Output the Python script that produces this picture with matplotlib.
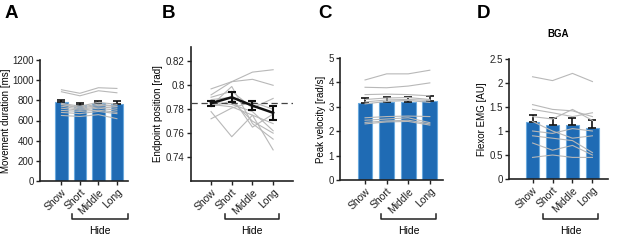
import matplotlib
matplotlib.use("Agg")
import matplotlib.pyplot as plt
import matplotlib.transforms as mtransforms
import numpy as np

plt.rcParams['font.family'] = ['Liberation Sans', 'DejaVu Sans']

categories = ["Show", "Short", "Middle", "Long"]

# Panel A: movement duration [ms]
dur_mean = [780, 752, 770, 765]
dur_err = [28, 25, 28, 28]
dur_subj = [
    [905, 870, 925, 918],
    [885, 845, 895, 875],
    [770, 742, 780, 760],
    [760, 722, 750, 740],
    [742, 712, 735, 722],
    [722, 702, 722, 702],
    [700, 690, 702, 682],
    [680, 668, 690, 668],
    [650, 640, 658, 618],
    [758, 732, 762, 742],
]

# Panel B: endpoint position [rad]
pos_mean = [0.785, 0.790, 0.783, 0.777]
pos_err = [0.002, 0.004, 0.004, 0.006]
pos_ref = 0.785
pos_subj = [
    [0.797, 0.803, 0.811, 0.813],
    [0.792, 0.803, 0.805, 0.800],
    [0.790, 0.795, 0.781, 0.789],
    [0.788, 0.790, 0.765, 0.776],
    [0.786, 0.784, 0.778, 0.762],
    [0.784, 0.782, 0.775, 0.746],
    [0.782, 0.787, 0.770, 0.760],
    [0.778, 0.757, 0.775, 0.768],
    [0.772, 0.781, 0.786, 0.780],
    [0.783, 0.799, 0.768, 0.755],
]

# Panel C: peak velocity [rad/s]
vel_mean = [3.15, 3.20, 3.18, 3.22]
vel_err = [0.20, 0.20, 0.21, 0.21]
vel_subj = [
    [4.10, 4.35, 4.35, 4.50],
    [3.80, 3.78, 3.85, 3.98],
    [3.50, 3.52, 3.50, 3.45],
    [3.30, 3.36, 3.38, 3.30],
    [3.20, 3.28, 3.30, 3.26],
    [3.12, 3.22, 3.26, 3.18],
    [2.55, 2.60, 2.62, 2.60],
    [2.45, 2.50, 2.55, 2.35],
    [2.36, 2.42, 2.45, 2.30],
    [2.30, 2.38, 2.40, 2.25],
]

# Panel D: flexor EMG [AU]
emg_mean = [1.19, 1.13, 1.12, 1.07]
emg_err = [0.15, 0.15, 0.16, 0.15]
emg_subj = [
    [2.13, 2.05, 2.20, 2.03],
    [1.55, 1.45, 1.42, 1.30],
    [1.45, 1.38, 1.30, 1.38],
    [1.30, 1.25, 1.45, 1.22],
    [1.20, 1.00, 0.85, 0.90],
    [1.00, 0.95, 1.05, 1.00],
    [0.90, 0.85, 0.80, 0.55],
    [0.75, 0.60, 0.70, 0.50],
    [0.45, 0.50, 0.45, 0.45],
]

W, H = 617, 241
fig = plt.figure(figsize=(W / 100, H / 100), dpi=100)

def px_axes(l, r, t, b):
    return fig.add_axes([l / W, 1 - b / H, (r - l) / W, (b - t) / H])

BAR = "#1f6bb4"
EDGE = "#6aa9dd"
GREY = "#b8b8b8"
TICK_FS = 7
LAB_FS = 7.5
YLAB_FS = 7

x = np.arange(len(categories))

def style(ax):
    for s in ["top", "right"]:
        ax.spines[s].set_visible(False)
    for s in ["left", "bottom"]:
        ax.spines[s].set_linewidth(1.2)
        ax.spines[s].set_color("#222222")
    ax.tick_params(direction="out", length=3, width=1, labelsize=TICK_FS, pad=1.5, colors="#222222")
    ax.set_xticks(x)
    ax.set_xticklabels(categories, rotation=45, ha="right", rotation_mode="anchor", fontsize=LAB_FS)

def hide_bracket(ax, x0, x1):
    tr = mtransforms.blended_transform_factory(ax.transData, fig.transFigure)
    yb = 1 - 219 / H
    yt = 1 - 214 / H
    ax.plot([x0, x0, x1, x1], [yt, yb, yb, yt], color="#222222", lw=1.1,
            transform=tr, clip_on=False)
    ax.text((x0 + x1) / 2, 1 - 231 / H, "Hide", transform=tr, ha="center",
            va="center", fontsize=LAB_FS)

def bar_panel(ax, mean, err, subj):
    ax.bar(x, mean, width=0.68, color=BAR, edgecolor=EDGE, linewidth=0.8, zorder=2)
    ax.errorbar(x, mean, yerr=[np.zeros(len(err)), err], fmt="none", ecolor="#111111",
                elinewidth=1.2, capsize=3, capthick=1.2, zorder=3)
    for s in subj:
        ax.plot(x, s, color=GREY, lw=0.8, zorder=4)

# A
axA = px_axes(40, 128, 60, 181)
bar_panel(axA, dur_mean, dur_err, dur_subj)
axA.set_ylim(0, 1200)
axA.set_yticks(np.arange(0, 1201, 200))
axA.set_xlim(-1.16, 3.6)
axA.set_ylabel("Movement duration [ms]", fontsize=YLAB_FS, labelpad=1)
style(axA)
hide_bracket(axA, 0.57, 3.6)

# B
axB = px_axes(191, 293, 47, 181)
for s in pos_subj:
    axB.plot(x, s, color=GREY, lw=0.8, zorder=2)
axB.axhline(pos_ref, color="#444444", lw=0.9, ls=(0, (5, 3)), zorder=3)
axB.errorbar(x, pos_mean, yerr=pos_err, color="#111111", lw=1.8, elinewidth=1.5,
             capsize=3, capthick=1.5, zorder=4)
axB.set_ylim(0.72, 0.832)
axB.set_yticks([0.74, 0.76, 0.78, 0.80, 0.82])
axB.set_yticklabels(["0.74", "0.76", "0.78", "0.8", "0.82"])
axB.set_xlim(-0.97, 3.96)
axB.set_ylabel("Endpoint position [rad]", fontsize=YLAB_FS, labelpad=2)
style(axB)
hide_bracket(axB, 0.68, 3.28)

# C
axC = px_axes(340, 443, 58, 180)
bar_panel(axC, vel_mean, vel_err, vel_subj)
axC.set_ylim(0, 5)
axC.set_yticks(np.arange(0, 6, 1))
axC.set_xlim(-1.16, 3.61)
axC.set_ylabel("Peak velocity [rad/s]", fontsize=YLAB_FS, labelpad=2)
style(axC)
hide_bracket(axC, 0.74, 3.29)

# D
axD = px_axes(509, 608, 59, 179)
bar_panel(axD, emg_mean, emg_err, emg_subj)
axD.set_ylim(0, 2.5)
axD.set_yticks([0, 0.5, 1, 1.5, 2, 2.5])
axD.set_yticklabels(["0", "0.5", "1", "1.5", "2", "2.5"])
axD.set_xlim(-1.18, 3.78)
axD.set_ylabel("Flexor EMG [AU]", fontsize=YLAB_FS, labelpad=2)
axD.set_title("BGA", fontsize=7, fontweight="bold", pad=16)
style(axD)
hide_bracket(axD, 0.52, 3.27)

for letter, xp in zip("ABCD", [5, 162, 318, 477]):
    fig.text(xp / W, 1 - 5 / H, letter, fontsize=13.5, fontweight="bold", ha="left", va="top")

fig.savefig("out.png", dpi=100)
